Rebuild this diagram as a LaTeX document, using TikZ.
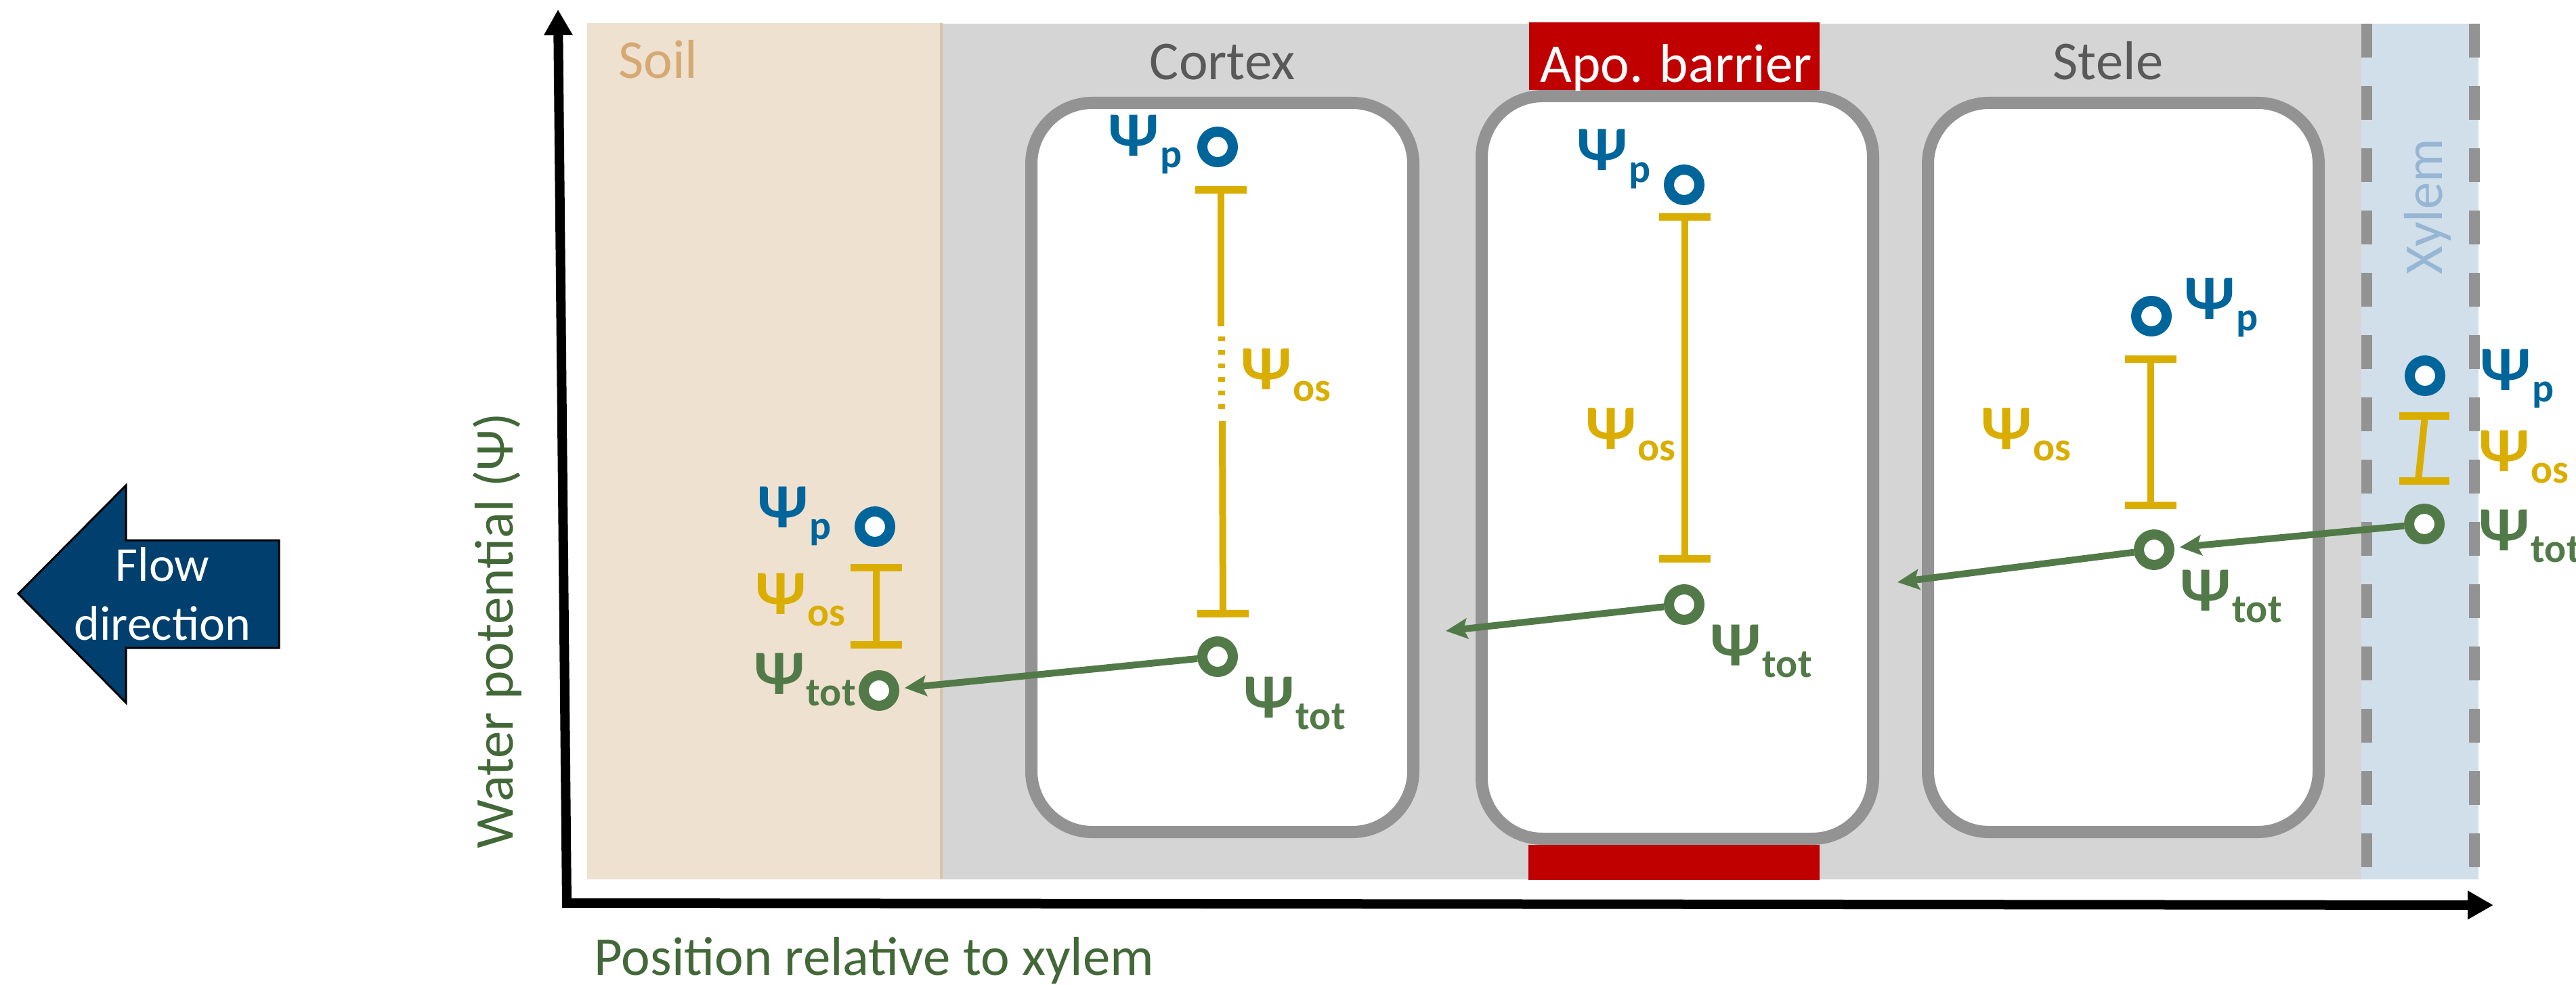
\documentclass[tikz,border=0pt]{standalone}
\usepackage{fontspec}
\setmainfont{Carlito}
\usepackage{xcolor}
\usetikzlibrary{arrows.meta, positioning}

\definecolor{soilfill}{RGB}{238,225,208}
\definecolor{soiledge}{RGB}{214,196,172}
\definecolor{soiltext}{RGB}{214,168,115}
\definecolor{apofill}{RGB}{213,213,213}
\definecolor{wallgrey}{RGB}{147,147,147}
\definecolor{xylfill}{RGB}{209,223,235}
\definecolor{xyltext}{RGB}{150,182,212}
\definecolor{barred}{RGB}{192,0,0}
\definecolor{labgrey}{RGB}{89,89,89}
\definecolor{psiblue}{RGB}{0,101,155}
\definecolor{psiyellow}{RGB}{218,174,0}
\definecolor{psigreen}{RGB}{82,122,72}
\definecolor{axisgreen}{RGB}{66,104,56}
\definecolor{flowblue}{RGB}{1,64,110}

% water potential symbol with subscript
\newcommand{\wpot}[1]{{\fontsize{26.5}{26.5}\selectfont\bfseries Ψ\kern0.5pt\raisebox{-5pt}{\fontsize{17}{17}\selectfont #1}}}

\tikzset{
    ostip/.tip={Bar[width=0.76cm, line width=0.11cm]},
    cellwall/.style={draw=wallgrey, line width=0.18cm, fill=white, rounded corners=0.9cm},
    ring/.style={circle, draw=#1, fill=white, line width=0.15cm, minimum size=0.45cm, inner sep=0pt},
    psilab/.style={text=#1, inner sep=0pt, anchor=base west},
    osbar/.style={draw=psiyellow, line width=0.1cm, ostip-ostip},
    flowline/.style={draw=psigreen, line width=0.1cm, -{Stealth[length=0.32cm, width=0.3cm, inset=0.06cm]}},
    zonelab/.style={inner sep=0pt, anchor=base, font=\fontsize{23}{23}\selectfont},
    axis/.style={line width=0.14cm, line join=miter, {Triangle[length=0.38cm, width=0.4cm]}-{Triangle[length=0.38cm, width=0.4cm]}}
}

\begin{document}
\begin{tikzpicture}
        \useasboundingbox (0,0) rectangle (38.04,-14.55);

        % Flow direction arrow
        \filldraw[fill=flowblue, draw=black, line width=0.03cm]
            (0.27,-8.77) -- (1.86,-7.17) -- (1.86,-7.98) -- (4.12,-7.98)
            -- (4.12,-9.57) -- (1.86,-9.57) -- (1.86,-10.38) -- cycle;
        \node[text=white, inner sep=0pt, anchor=base, font=\fontsize{20.5}{20.5}\selectfont] (flowa) at (2.40,-8.58) {Flow};
        \node[text=white, inner sep=0pt, anchor=base, font=\fontsize{20.5}{20.5}\selectfont] (flowb) at (2.40,-9.45) {direction};

        % Zones
        \fill[soilfill] (8.67,-0.34) rectangle (13.90,-12.99);
        \fill[apofill] (13.90,-0.35) rectangle (34.87,-12.99);
        \fill[xylfill] (34.87,-0.35) rectangle (36.60,-12.99);
        \draw[soiledge, line width=0.04cm] (13.90,-0.34) -- (13.90,-12.99);
        \draw[wallgrey, line width=0.16cm, dash pattern=on 0.5cm off 0.42cm] (34.95,-0.35) -- (34.95,-12.99);
        \draw[wallgrey, line width=0.16cm, dash pattern=on 0.5cm off 0.42cm] (36.54,-0.35) -- (36.54,-12.99);

        % Apoplastic barrier
        \fill[barred] (22.58,-0.33) rectangle (26.87,-1.33);
        \fill[barred] (22.57,-12.48) rectangle (26.87,-13.00);

        % Cells
        \draw[cellwall] (15.23,-1.52) rectangle (20.87,-12.29);
        \draw[cellwall] (21.88,-1.42) rectangle (27.66,-12.39);
        \draw[cellwall] (28.47,-1.52) rectangle (34.24,-12.29);

        % Zone labels
        \node[zonelab, text=soiltext, anchor=base west] (soillab) at (9.13,-1.16) {Soil};
        \node[zonelab, text=labgrey] (cortlab) at (18.05,-1.18) {Cortex};
        \node[zonelab, text=white] (apolab) at (24.75,-1.22) {Apo. barrier};
        \node[zonelab, text=labgrey] (stellab) at (31.13,-1.18) {Stele};
        \node[zonelab, text=xyltext, rotate=90] (xyllab) at (36.06,-3.05) {Xylem};

        % Axes
        \coordinate (orig) at (8.37,-13.34);
        \draw[axis] (8.24,-0.14) -- (orig) -- (36.82,-13.37);
        \node[zonelab, text=axisgreen, rotate=90] (ylab) at (7.57,-9.32) {Water potential (Ψ)};
        \node[zonelab, text=axisgreen, anchor=base west] (xlab) at (8.77,-14.40) {Position relative to xylem};

        % Osmotic bars
        \draw[osbar] (12.94,-8.33) -- (12.94,-9.58);
        \draw[osbar, ostip-] (18.03,-2.75) -- (18.03,-4.82);
        \draw[osbar, -, dash pattern=on 0.07cm off 0.13cm] (18.04,-4.97) -- (18.04,-6.10);
        \draw[osbar, -ostip] (18.05,-6.22) -- (18.06,-9.12);
        \draw[osbar] (24.88,-3.15) -- (24.88,-8.31);
        \draw[osbar] (31.76,-5.25) -- (31.76,-7.52);
        \draw[osbar, -] (35.81,-6.14) -- (35.71,-7.10);
        \draw[osbar, -, line width=0.11cm] (35.43,-6.14) -- (36.17,-6.14);
        \draw[osbar, -, line width=0.11cm] (35.43,-7.10) -- (36.17,-7.10);

        % Pressure and total potentials
        \node[ring=psiblue] (soilp) at (12.92,-7.78) {};
        \node[ring=psigreen] (soiltot) at (12.98,-10.20) {};
        \node[ring=psiblue] (cortp) at (17.98,-2.17) {};
        \node[ring=psigreen] (corttot) at (17.98,-9.70) {};
        \node[ring=psiblue] (apop) at (24.87,-2.73) {};
        \node[ring=psigreen] (apotot) at (24.87,-8.93) {};
        \node[ring=psiblue] (stelp) at (31.77,-4.67) {};
        \node[ring=psigreen] (steltot) at (31.81,-8.12) {};
        \node[ring=psiblue] (xylp) at (35.81,-5.55) {};
        \node[ring=psigreen] (xyltot) at (35.80,-7.74) {};

        % Psi labels
        \node[psilab=psiblue] (soilplab) at (11.18,-7.79) {\wpot{p}};
        \node[psilab=psiyellow] (soiloslab) at (11.15,-9.07) {\wpot{os}};
        \node[psilab=psigreen] (soiltotlab) at (11.13,-10.25) {\wpot{tot}};
        \node[psilab=psiblue] (cortplab) at (16.36,-2.30) {\wpot{p}};
        \node[psilab=psiyellow] (cortoslab) at (18.32,-5.75) {\wpot{os}};
        \node[psilab=psigreen] (corttotlab) at (18.36,-10.60) {\wpot{tot}};
        \node[psilab=psiblue] (apoplab) at (23.28,-2.52) {\wpot{p}};
        \node[psilab=psiyellow] (apooslab) at (23.41,-6.63) {\wpot{os}};
        \node[psilab=psigreen] (apototlab) at (25.25,-9.83) {\wpot{tot}};
        \node[psilab=psiblue] (stelplab) at (32.25,-4.71) {\wpot{p}};
        \node[psilab=psiyellow] (steloslab) at (29.25,-6.63) {\wpot{os}};
        \node[psilab=psigreen] (steltotlab) at (32.19,-9.02) {\wpot{tot}};
        \node[psilab=psiblue] (xylplab) at (36.62,-5.76) {\wpot{p}};
        \node[psilab=psiyellow] (xyloslab) at (36.60,-6.96) {\wpot{os}};
        \node[psilab=psigreen] (xyltotlab) at (36.60,-8.13) {\wpot{tot}};

        % Water flow
        \coordinate (gapsa) at (28.02,-8.60);
        \coordinate (gapca) at (21.35,-9.32);
        \draw[flowline, shorten >=0.08cm] (xyltot) -- (steltot);
        \draw[flowline] (steltot) -- (gapsa);
        \draw[flowline] (apotot) -- (gapca);
        \draw[flowline, shorten >=0.08cm] (corttot) -- (soiltot);
    \end{tikzpicture}
\end{document}
